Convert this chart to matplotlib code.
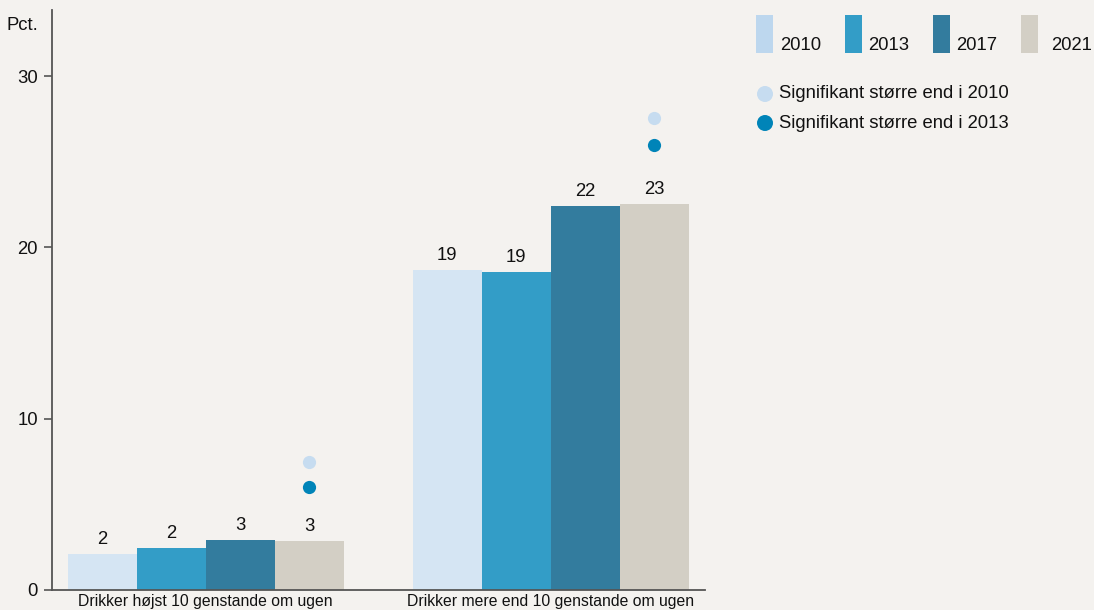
import matplotlib
matplotlib.use("Agg")
import matplotlib.pyplot as plt
from matplotlib.patches import Rectangle, Circle

plt.rcParams['font.family'] = ['Liberation Sans', 'DejaVu Sans']

categories = ["Drikker højst 10 genstande om ugen", "Drikker mere end 10 genstande om ugen"]
years = ["2010", "2013", "2017", "2021"]
values = {
    "2010": [2.1, 18.7],
    "2013": [2.45, 18.55],
    "2017": [2.9, 22.4],
    "2021": [2.85, 22.55],
}
# significance dots above the 2021 bar (y position of each dot)
sig_2010_y = [7.5, 27.55]
sig_2013_y = [6.0, 26.0]

bar_colors = ["#d5e5f3", "#339dc7", "#337c9e", "#d3cfc5"]
legend_colors = ["#bdd7ee", "#339dc7", "#337c9e", "#d3cfc5"]
dot_light = "#c6dcf0"
dot_dark = "#0084b8"
bg = "#f4f2ef"
axis_col = "#555555"
fs = 13.3

W, H = 1094, 610
fig = plt.figure(figsize=(W / 100, H / 100), dpi=100, facecolor=bg)
ax = fig.add_axes([52 / W, 1 - 590 / H, (705 - 52) / W, (590 - 10) / H])
ax.set_facecolor(bg)

bw = 0.2
offsets = [-1.5 * bw, -0.5 * bw, 0.5 * bw, 1.5 * bw]
for i, yr in enumerate(years):
    xs = [g + offsets[i] for g in range(len(categories))]
    ax.bar(xs, values[yr], width=bw, color=bar_colors[i], linewidth=0)
    for x, v in zip(xs, values[yr]):
        ax.annotate(str(int(v + 0.5)), (x, v), xytext=(0, 7.2), textcoords="offset points",
                    ha="center", va="baseline", fontsize=fs, color="#111111")

for g in range(len(categories)):
    x = g + offsets[3]
    ax.plot(x, sig_2013_y[g], "o", ms=9.5, color=dot_dark, mec="none")
    ax.plot(x, sig_2010_y[g], "o", ms=9.5, color=dot_light, mec="none")

ax.set_xlim((52 - 205.5) / 345, (705 - 205.5) / 345)
ax.set_ylim(0, 580 / 17.133)
ax.set_yticks([0, 10, 20, 30])
ax.set_xticks(range(len(categories)))
ax.set_xticklabels(categories, fontsize=11.35, color="#111111")
ax.tick_params(axis="x", length=0, pad=3)
ax.tick_params(axis="y", length=6, width=1.2, color=axis_col, pad=4, labelsize=fs, labelcolor="#111111")
for s in ["top", "right"]:
    ax.spines[s].set_visible(False)
for s in ["left", "bottom"]:
    ax.spines[s].set_color(axis_col)
    ax.spines[s].set_linewidth(1.3)

fig.text(38 / W, 1 - 25 / H, "Pct.", ha="right", va="center", fontsize=fs, color="#111111")

# legend drawn in pixel coordinates
lg = fig.add_axes([0, 0, 1, 1], facecolor="none")
lg.set_xlim(0, W)
lg.set_ylim(H, 0)
lg.axis("off")
rect_x = [756, 845, 933, 1021]
text_x = [780, 868, 956, 1051]
for i, yr in enumerate(years):
    lg.add_patch(Rectangle((rect_x[i], 15), 17, 38, color=legend_colors[i], lw=0))
    lg.text(text_x[i], 50, yr, ha="left", va="baseline", fontsize=fs, color="#111111")
for y, c, lab in [(94, dot_light, "Signifikant større end i 2010"),
                  (123, dot_dark, "Signifikant større end i 2013")]:
    lg.add_patch(Circle((765, y), 8, color=c, lw=0))
    lg.text(779, y, lab, ha="left", va="center", fontsize=fs, color="#111111")

fig.savefig("out.png", dpi=100, facecolor=bg)
